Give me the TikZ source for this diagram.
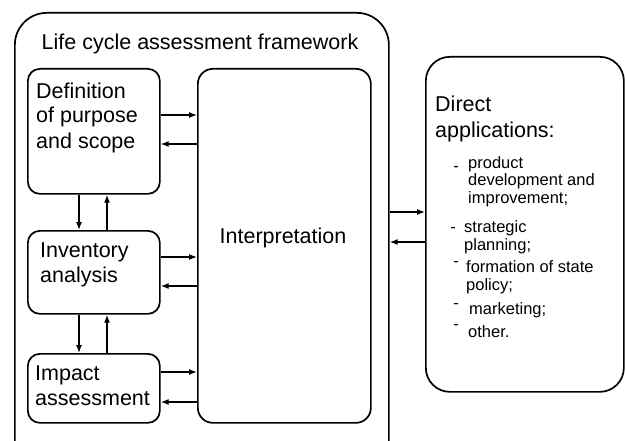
\documentclass[tikz,border=0pt]{standalone}
\usepackage{fontspec}
\setmainfont{Liberation Sans}
\usetikzlibrary{arrows.meta}
\begin{document}
\begin{tikzpicture}[x=1pt,y=-1pt,
  panel/.style={draw, line width=1.7pt, rounded corners=#1, inner sep=0pt,
    anchor=north west},
  link/.style={line width=1.2pt, -{Latex[length=8pt,width=6pt]}},
  % multi-line labels are placed by the baseline of their last line
  lbl/.style={font=\fontsize{21.5}{25}\selectfont, align=left, inner sep=0pt,
    anchor=base west},
  itm/.style={font=\fontsize{16.5}{17.5}\selectfont, align=left, inner sep=0pt,
    anchor=base west},
  dashmark/.style={font=\fontsize{16.5}{17.5}\selectfont, inner sep=0pt}]
\clip (0,0) rectangle (626,441);
\fill[white] (0,0) rectangle (626,441);

% framework outline and its blocks
\node[panel=32pt, minimum width=374pt, minimum height=470pt] (frame) at (14,12) {};
\node[font=\fontsize{21.5}{25}\selectfont, inner sep=0pt, anchor=base] (title)
  at (200,50) {Life cycle assessment framework};

\node[panel=12pt, minimum width=132pt, minimum height=125pt] (def) at (27,68) {};
\node[panel=12pt, minimum width=132pt, minimum height=83pt] (inv) at (27,230) {};
\node[panel=12pt, minimum width=132pt, minimum height=69pt] (imp) at (27,353) {};
\node[panel=15pt, minimum width=173pt, minimum height=354pt] (interp) at (197,68) {};

\node[lbl] (defT) at (36,148) {Definition\\of purpose\\and scope};
\node[lbl] (invT) at (40,282) {Inventory\\analysis};
\node[lbl] (impT) at (35,405) {Impact\\assessment};
\node[font=\fontsize{21.5}{25}\selectfont, inner sep=0pt] (interpT) at (283,238) {Interpretation};

% applications block
\node[panel=24pt, minimum width=198pt, minimum height=335pt] (apps) at (425,56) {};
\node[lbl] (appsT) at (435,137) {Direct\\applications:};

\node[itm] (a1) at (468,203) {product\\development and\\improvement;};
\node[itm] (a2) at (464,250) {strategic\\planning;};
\node[itm] (a3) at (466,290) {formation of state\\policy;};
\node[itm] (a4) at (469,314) {marketing;};
\node[itm] (a5) at (468,337) {other.};

\node[dashmark] (d1) at (456,169) {-};
\node[dashmark] (d2) at (453,230) {-};
\node[dashmark] (d3) at (456,264) {-};
\node[dashmark] (d4) at (456,306) {-};
\node[dashmark] (d5) at (456,327) {-};

% connector heights
\coordinate (h1) at (0,115);
\coordinate (h2) at (0,144);
\coordinate (h3) at (0,257);
\coordinate (h4) at (0,286);
\coordinate (h5) at (0,372);
\coordinate (h6) at (0,402);
\coordinate (h7) at (0,212);
\coordinate (h8) at (0,242);
\coordinate (vdown) at (79,0);
\coordinate (vup) at (107,0);

\draw[link] (def.east |- h1) -- (interp.west |- h1);
\draw[link] (interp.west |- h2) -- (def.east |- h2);
\draw[link] (inv.east |- h3) -- (interp.west |- h3);
\draw[link] (interp.west |- h4) -- (inv.east |- h4);
\draw[link] (imp.east |- h5) -- (interp.west |- h5);
\draw[link] (interp.west |- h6) -- (imp.east |- h6);

\draw[link] (vdown |- def.south) -- (vdown |- inv.north);
\draw[link] (vup |- inv.north) -- (vup |- def.south);
\draw[link] (vdown |- inv.south) -- (vdown |- imp.north);
\draw[link] (vup |- imp.north) -- (vup |- inv.south);

\draw[link] (frame.east |- h7) -- (apps.west |- h7);
\draw[link] (apps.west |- h8) -- (frame.east |- h8);
\end{tikzpicture}
\end{document}
